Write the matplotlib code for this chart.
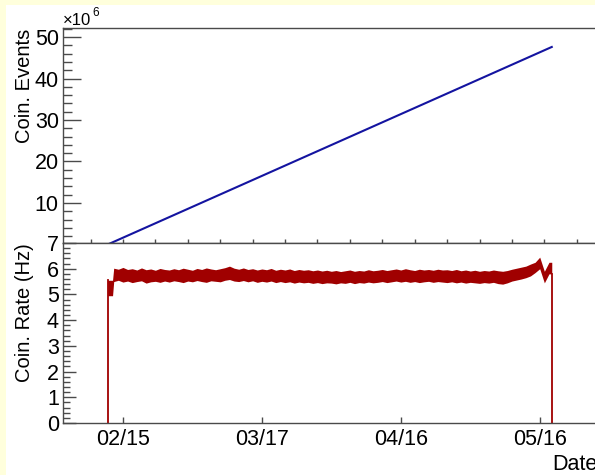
import matplotlib
matplotlib.use('Agg')
import matplotlib.pyplot as plt
import matplotlib.dates as mdates
from matplotlib.patches import Rectangle
from matplotlib.ticker import FixedLocator, MultipleLocator, NullFormatter, FixedFormatter
import datetime as dt

plt.rcParams['font.family'] = ['Liberation Sans', 'DejaVu Sans']

# ---------------- data ----------------
base_date = dt.datetime(2019, 2, 15)          # day 0
tick_label_days = [0, 30, 60, 90]
tick_labels = ['02/15', '03/17', '04/16', '05/16']

# cumulative coincidence events (x10^6)
cum_days = [-3.3, 92.6]
cum_events = [0.0, 47.6]

# coincidence rate band (Hz): day offsets, lower and upper envelope
rate_days = [-3.3, -2.25,
             -2, -1, 0, 1, 2, 3, 4, 5, 6, 7, 8, 9,
             10, 11, 12, 13, 14, 15, 16, 17, 18, 19, 20, 21,
             22, 23, 24, 25, 26, 27, 28, 29, 30, 31, 32, 33,
             34, 35, 36, 37, 38, 39, 40, 41, 42, 43, 44, 45,
             46, 47, 48, 49, 50, 51, 52, 53, 54, 55, 56, 57,
             58, 59, 60, 61, 62, 63, 64, 65, 66, 67, 68, 69,
             70, 71, 72, 73, 74, 75, 76, 77, 78, 79, 80, 81,
             82, 83, 84, 85, 86, 87, 88, 89, 90, 91, 92, 92.6]
rate_hi = [5.55, 5.55,
           6.02, 5.98, 6.05, 5.97, 6.00, 5.95, 6.03, 5.96, 5.99, 5.94, 6.01, 5.97,
           5.95, 6.00, 5.96, 6.02, 5.98, 5.94, 6.01, 5.97, 6.03, 5.99, 5.96, 6.00,
           6.04, 6.10, 6.02, 5.98, 6.03, 5.97, 6.00, 5.95, 5.99, 5.96, 6.01, 5.94,
           5.98, 5.95, 5.99, 5.93, 5.97, 5.94, 5.96, 5.92, 5.95, 5.91, 5.94, 5.90,
           5.93, 5.89, 5.92, 5.95, 5.90, 5.93, 5.91, 5.96, 5.92, 5.94, 5.97, 5.93,
           5.96, 5.99, 5.95, 6.00, 5.96, 5.93, 5.98, 5.95, 5.97, 5.94, 5.98, 5.95,
           5.96, 5.93, 5.97, 5.92, 5.95, 5.91, 5.94, 5.90, 5.93, 5.91, 5.95, 5.92,
           5.90, 5.93, 5.98, 6.02, 6.06, 6.10, 6.18, 6.25, 6.45, 5.90, 6.25, 6.25]
rate_lo = [4.95, 4.95,
           5.50, 5.55, 5.48, 5.52, 5.46, 5.50, 5.53, 5.44, 5.49, 5.51, 5.47, 5.52,
           5.48, 5.53, 5.50, 5.46, 5.52, 5.49, 5.54, 5.50, 5.47, 5.53, 5.51, 5.49,
           5.55, 5.58, 5.52, 5.50, 5.54, 5.49, 5.53, 5.47, 5.51, 5.48, 5.52, 5.46,
           5.50, 5.46, 5.49, 5.44, 5.48, 5.45, 5.47, 5.43, 5.46, 5.42, 5.45, 5.44,
           5.41, 5.45, 5.43, 5.47, 5.42, 5.46, 5.44, 5.48, 5.45, 5.47, 5.50, 5.46,
           5.49, 5.52, 5.48, 5.51, 5.47, 5.50, 5.46, 5.49, 5.51, 5.47, 5.50, 5.48,
           5.46, 5.49, 5.45, 5.48, 5.44, 5.47, 5.45, 5.43, 5.46, 5.44, 5.47, 5.42,
           5.40, 5.45, 5.52, 5.56, 5.60, 5.65, 5.72, 5.85, 6.00, 5.45, 5.80, 5.80]

# ---------------- figure ----------------
W, H = 595, 475
fig = plt.figure(figsize=(W / 100, H / 100), dpi=100)
fig.patch.set_facecolor('#ffffdc')
fig.patches.append(Rectangle((6 / W, 0), 1.0, 1 - 5 / H, transform=fig.transFigure,
                             facecolor='white', edgecolor='none', zorder=-10))

x0 = mdates.date2num(base_date)
def to_x(days):
    return [x0 + d for d in days]

left, right = 63, 599
ax1 = fig.add_axes([left / W, 1 - 243 / H, (right - left) / W, 215 / H])
ax2 = fig.add_axes([left / W, 1 - 423 / H, (right - left) / W, 180 / H])

xlim = (x0 - 12.95, x0 + 102.8)
spine_col = '#4a4a4a'
for ax in (ax1, ax2):
    ax.set_xlim(*xlim)
    for s in ax.spines.values():
        s.set_color(spine_col)
        s.set_linewidth(1.0)
    ax.spines['right'].set_visible(False)

# upper panel
ax1.plot(to_x(cum_days), cum_events, color='#1414a0', lw=1.5)
ax1.set_ylim(0.36, 52.17)
ax1.yaxis.set_major_locator(FixedLocator([10, 20, 30, 40, 50]))
ax1.yaxis.set_minor_locator(MultipleLocator(2))
ax1.tick_params(axis='y', which='major', direction='in', length=13, width=1,
                color=spine_col, labelsize=15.5, pad=3)
ax1.tick_params(axis='y', which='minor', direction='in', length=6.5, width=1,
                color=spine_col)
week_ticks = [x0 + 7 * k for k in range(-1, 15)]
ax1.xaxis.set_major_locator(FixedLocator(week_ticks))
ax1.xaxis.set_major_formatter(NullFormatter())
ax1.tick_params(axis='x', which='major', direction='in', length=3, width=1,
                color=spine_col, bottom=True, top=False)

# lower panel
ax2.fill_between(to_x(rate_days), rate_lo, rate_hi, color='#a00000', lw=0)
ax2.plot([x0 + rate_days[0]] * 2, [0, rate_hi[0]], color='#a00000', lw=1.3)
ax2.plot([x0 + rate_days[-1]] * 2, [0, rate_lo[-1]], color='#a00000', lw=1.3)
ax2.set_ylim(0, 7)
ax2.yaxis.set_major_locator(MultipleLocator(1))
ax2.yaxis.set_minor_locator(MultipleLocator(0.2))
ax2.tick_params(axis='y', which='major', direction='in', length=9.5, width=1,
                color=spine_col, labelsize=15.5, pad=3)
ax2.tick_params(axis='y', which='minor', direction='in', length=5, width=1,
                color=spine_col)
ax2.xaxis.set_major_locator(FixedLocator(to_x(tick_label_days)))
ax2.xaxis.set_major_formatter(FixedFormatter(tick_labels))
ax2.tick_params(axis='x', which='major', direction='in', length=4, width=1,
                color=spine_col, labelsize=15.5, pad=4)

# texts
fig.text(25 / W, 1 - 29 / H, 'Coin. Events', rotation=90, ha='center', va='top',
         fontsize=14.5)
fig.text(24 / W, 1 - 243.5 / H, 'Coin. Rate (Hz)', rotation=90, ha='center', va='top',
         fontsize=14.5)
fig.text(552 / W, 1 - 470 / H, 'Date', ha='left', va='baseline', fontsize=15.5)
fig.text(63 / W, 1 - 25 / H, '\u00d710', ha='left', va='baseline', fontsize=12)
fig.text(92 / W, 1 - 16 / H, '6', ha='left', va='baseline', fontsize=8.5)

fig.savefig('out.png', dpi=100, facecolor=fig.get_facecolor())
